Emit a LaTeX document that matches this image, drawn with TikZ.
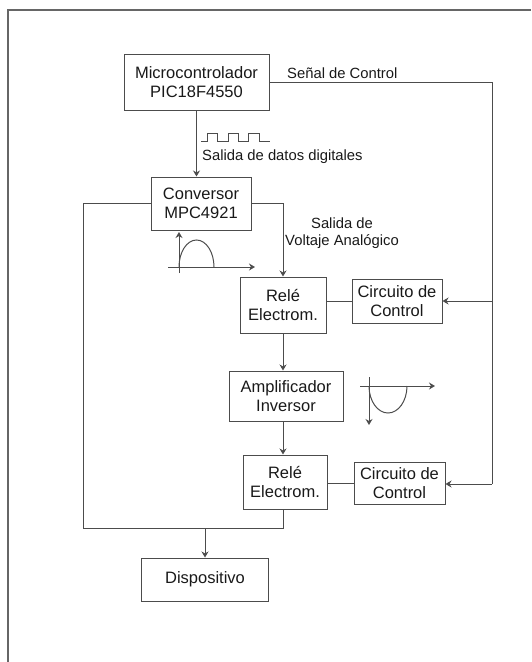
\documentclass[tikz,border=0pt]{standalone}
\usepackage{fontspec}
\setmainfont{Liberation Sans}
\usetikzlibrary{arrows.meta}

\begin{document}
\begin{tikzpicture}[x=1pt, y=-1pt,
        blockbox/.style = {rectangle, draw = black!70, line width = 1pt, text = black!90,
                           align = center, inner sep = 0pt, font = \fontsize{16.5}{19.5}\selectfont},
        notetext/.style = {text = black!90, align = center, inner sep = 0pt,
                           font = \fontsize{14.8}{17.5}\selectfont},
        wire/.style     = {draw = black!70, line width = 1pt},
        tip/.style      = {-{Stealth[length = 6pt, width = 7pt]}}]
        \useasboundingbox (0,0) rectangle (531,662);

        % ---------------------------------------------------------------------------
        % Frame
        % ---------------------------------------------------------------------------
        \draw [black!60, line width = 1.5pt] (8,662) -- (8,10) -- (531,10);

        % ---------------------------------------------------------------------------
        % Draw nodes
        % ---------------------------------------------------------------------------
        \node[  blockbox,
                minimum width = 145pt,
                minimum height = 56pt]  (Micro) at (196.5,82) {Microcontrolador\\PIC18F4550};

        \node[  blockbox,
                minimum width = 100pt,
                minimum height = 53pt]  (Conv) at (201,203.5) {Conversor\\MPC4921};

        \node[  blockbox,
                minimum width = 86pt,
                minimum height = 56pt]  (ReleA) at (283,305) {Relé\\Electrom.};

        \node[  blockbox,
                minimum width = 90pt,
                minimum height = 44pt]  (CircA) at (397,301) {Circuito de\\Control};

        \node[  blockbox,
                minimum width = 114pt,
                minimum height = 50pt]  (Amp) at (286,396) {Amplificador\\Inversor};

        \node[  blockbox,
                minimum width = 84pt,
                minimum height = 54pt]  (ReleB) at (285,482) {Relé\\Electrom.};

        \node[  blockbox,
                minimum width = 91pt,
                minimum height = 42pt]  (CircB) at (399.5,483) {Circuito de\\Control};

        \node[  blockbox,
                minimum width = 127pt,
                minimum height = 43pt]  (Disp) at (205,579.5) {Dispositivo};

        % ---------------------------------------------------------------------------
        % Draw labels
        % ---------------------------------------------------------------------------
        \node[notetext, anchor = west]  (CtlText) at (287,73)  {Señal de Control};
        \node[notetext, anchor = west]  (DigText) at (202,157) {Salida de datos digitales};
        \node[notetext]                 (AnaText) at (342,233) {Salida de\\Voltaje Analógico};

        \coordinate (CtlEnd) at (492,484);
        \coordinate (JoinL)  at (83,528);

        % ---------------------------------------------------------------------------
        % Draw arrows
        % ---------------------------------------------------------------------------
        \draw [wire, tip]   (Micro.south)           -- (Micro.south |- Conv.north);     % digital data
        \draw [wire, tip]   (Conv.east)             -| (ReleA.north);                   % analog voltage
        \draw [wire, tip]   (ReleA.south)           -- (ReleA.south |- Amp.north);      % relay to amp
        \draw [wire, tip]   (ReleA.south |- Amp.south) -- (ReleA.south |- ReleB.north); % amp to relay
        \draw [wire]        (Micro.east)            -| (CtlEnd);                        % control signal
        \draw [wire, tip]   (CircA.east -| CtlEnd)  -- (CircA.east);                    % control 1
        \draw [wire, tip]   (CtlEnd)                -- (CtlEnd -| CircB.east);          % control 2
        \draw [wire]        (ReleA.east |- CircA.west) -- (CircA.west);                 % relay 1
        \draw [wire]        (ReleB.east |- CircB.west) -- (CircB.west);                 % relay 2
        \draw [wire]        (Conv.west) -| (JoinL) -| (ReleA.south |- ReleB.south);    % bypass
        \draw [wire, tip]   (Disp.north |- JoinL)   -- (Disp.north);                    % device

        % ---------------------------------------------------------------------------
        % Draw signals
        % ---------------------------------------------------------------------------
        \draw [wire] (201,141) -| (207,133) -| (217,141) -| (228,133) -| (238,141)
                               -| (248,133) -| (259,141) -- (270,141);

        \draw [wire, tip]   (179,273) -- (179,232);
        \draw [wire, tip]   (168,267) -- (255,267);
        \draw [wire]        (179,267) arc[start angle = 180, end angle = 0, x radius = 17.5pt, y radius = 27pt];

        \draw [wire, tip]   (369,377) -- (369,425);
        \draw [wire, tip]   (360,386) -- (435,386);
        \draw [wire]        (369,386) arc[start angle = 180, end angle = 360, x radius = 19pt, y radius = 27pt];

\end{tikzpicture}
\end{document}
